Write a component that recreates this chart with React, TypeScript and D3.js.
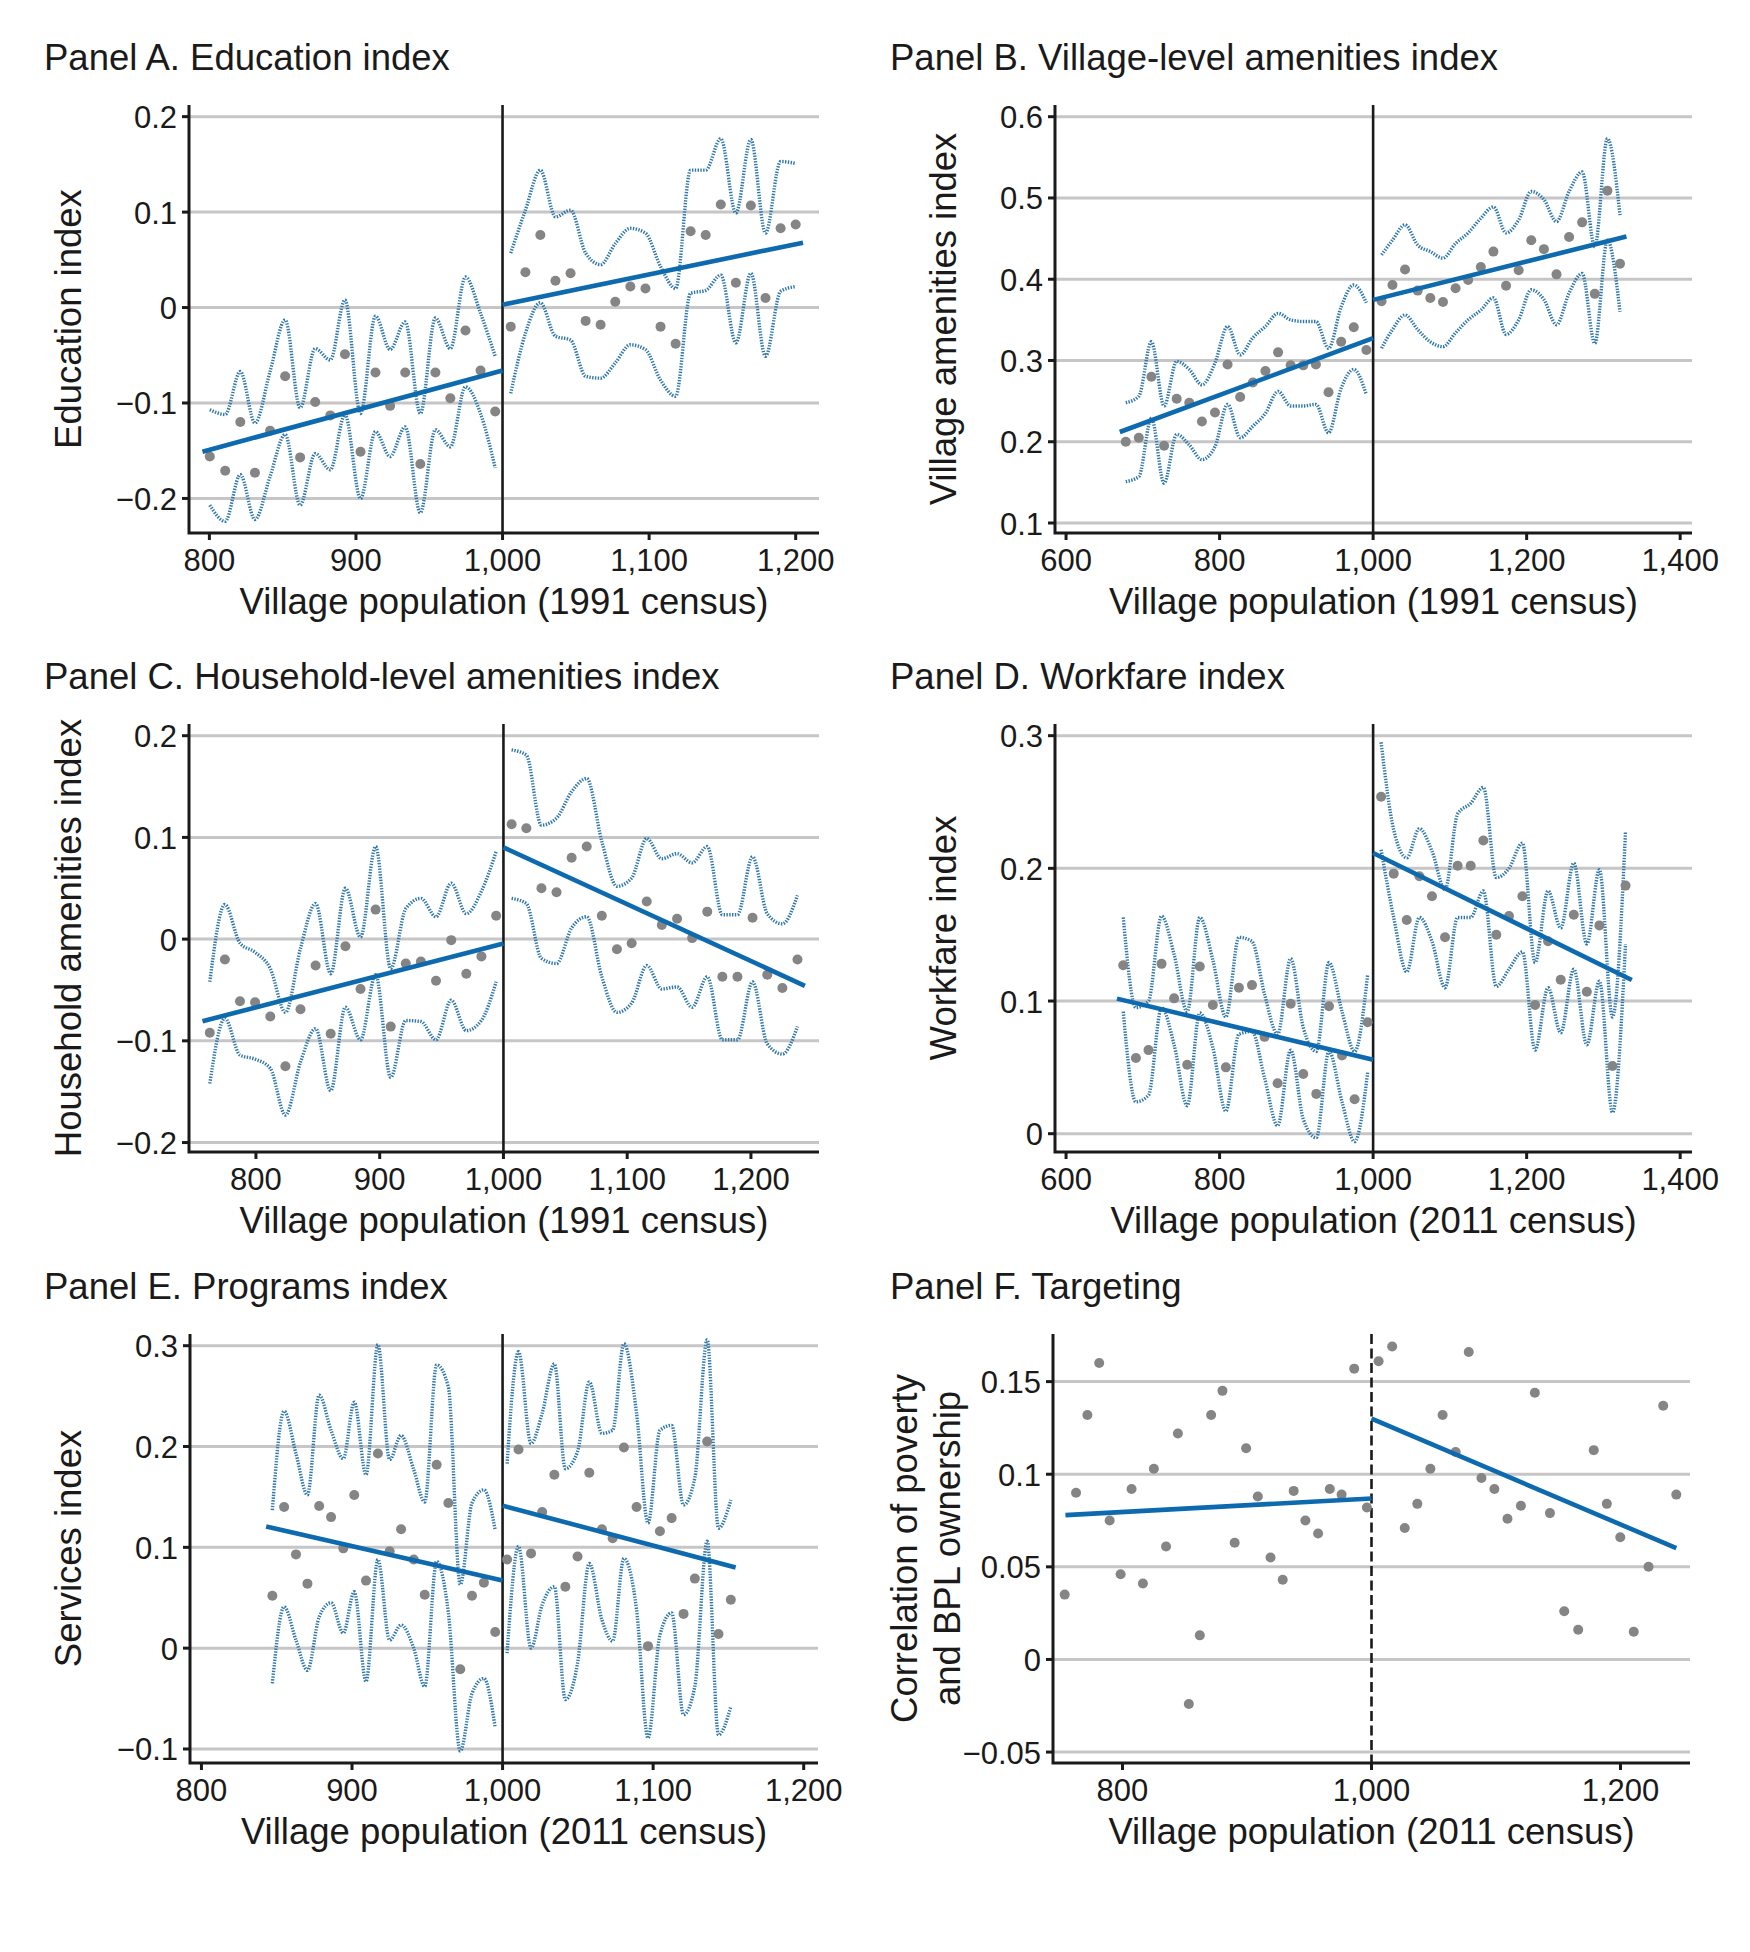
import React from 'react';
import * as d3 from 'd3';

// ---------------- Panel A: Education index ----------------
const aLeftX = [800.3, 810.8, 821.1, 831.1, 841.4, 851.7, 861.9, 872.2, 882.5, 892.5, 903.1, 913.3, 923.3, 933.6, 943.9, 954.2, 964.4, 974.7, 985.0, 995.0];
const aLeftY = [-0.156, -0.171, -0.120, -0.173, -0.129, -0.072, -0.157, -0.099, -0.113, -0.049, -0.151, -0.068, -0.103, -0.068, -0.164, -0.068, -0.095, -0.024, -0.066, -0.109];
const aLeftUp = [-0.107, -0.112, -0.067, -0.121, -0.067, -0.013, -0.105, -0.043, -0.055, 0.008, -0.111, -0.009, -0.044, -0.015, -0.111, -0.011, -0.043, 0.032, -0.006, -0.051];
const aLeftLo = [-0.207, -0.224, -0.175, -0.222, -0.177, -0.133, -0.207, -0.153, -0.170, -0.112, -0.200, -0.130, -0.156, -0.125, -0.215, -0.128, -0.146, -0.083, -0.111, -0.168];
const aRightX = [1005.6, 1015.6, 1025.8, 1036.1, 1046.4, 1056.7, 1066.9, 1076.9, 1087.2, 1097.5, 1107.8, 1118.1, 1128.3, 1138.6, 1148.9, 1159.2, 1169.4, 1179.4, 1189.7, 1200.0];
const aRightY = [-0.020, 0.037, 0.076, 0.028, 0.036, -0.014, -0.018, 0.006, 0.022, 0.020, -0.020, -0.038, 0.080, 0.076, 0.108, 0.026, 0.107, 0.010, 0.083, 0.087];
const aRightUp = [0.057, 0.102, 0.144, 0.095, 0.102, 0.057, 0.045, 0.067, 0.083, 0.078, 0.043, 0.020, 0.144, 0.144, 0.177, 0.099, 0.176, 0.078, 0.153, 0.151];
const aRightLo = [-0.090, -0.027, 0.005, -0.030, -0.034, -0.072, -0.074, -0.058, -0.039, -0.044, -0.076, -0.093, 0.015, 0.018, 0.034, -0.037, 0.036, -0.051, 0.017, 0.022];
const aFitLeft: [number, number][] = [[795.3, -0.151], [1000, -0.066]];
const aFitRight: [number, number][] = [[1000, 0.003], [1205, 0.068]];

// ---------------- Panel B: Village-level amenities ----------------
const bLeftX = [677.8, 694.8, 711.2, 727.7, 744.1, 760.5, 777.0, 794.0, 810.4, 826.8, 843.3, 859.7, 876.2, 892.6, 909.0, 925.5, 941.9, 958.4, 974.8, 991.2];
const bLeftY = [0.200, 0.205, 0.280, 0.195, 0.253, 0.248, 0.225, 0.236, 0.295, 0.255, 0.273, 0.287, 0.310, 0.294, 0.294, 0.295, 0.261, 0.323, 0.341, 0.313];
const bLeftUp = [0.248, 0.256, 0.323, 0.244, 0.299, 0.289, 0.270, 0.297, 0.342, 0.307, 0.328, 0.342, 0.358, 0.350, 0.348, 0.348, 0.315, 0.366, 0.393, 0.371];
const bLeftLo = [0.151, 0.157, 0.229, 0.149, 0.209, 0.196, 0.178, 0.194, 0.246, 0.205, 0.219, 0.235, 0.262, 0.244, 0.244, 0.246, 0.211, 0.266, 0.289, 0.258];
const bRightX = [1011.0, 1025.2, 1041.6, 1058.1, 1074.5, 1091.0, 1107.4, 1123.8, 1140.3, 1156.7, 1173.2, 1189.6, 1206.0, 1222.5, 1238.9, 1255.3, 1272.3, 1288.8, 1305.2, 1321.6];
const bRightY = [0.373, 0.393, 0.412, 0.386, 0.377, 0.372, 0.389, 0.399, 0.415, 0.434, 0.392, 0.411, 0.448, 0.437, 0.406, 0.452, 0.470, 0.382, 0.509, 0.419];
const bRightUp = [0.430, 0.448, 0.467, 0.442, 0.434, 0.426, 0.444, 0.457, 0.475, 0.489, 0.457, 0.473, 0.508, 0.498, 0.471, 0.508, 0.532, 0.440, 0.573, 0.479];
const bRightLo = [0.315, 0.338, 0.356, 0.338, 0.323, 0.317, 0.334, 0.350, 0.362, 0.377, 0.332, 0.350, 0.387, 0.375, 0.344, 0.383, 0.407, 0.321, 0.448, 0.360];
const bFitLeft: [number, number][] = [[670, 0.212], [1000, 0.3275]];
const bFitRight: [number, number][] = [[1000, 0.3746], [1330, 0.4525]];

// ---------------- Panel C: Household-level amenities ----------------
const cLeftX = [762.7, 774.9, 787.1, 799.3, 811.6, 823.8, 836.0, 848.2, 860.4, 872.3, 884.5, 896.7, 908.9, 921.1, 933.3, 945.5, 957.8, 970.0, 982.2, 994.1];
const cLeftY = [-0.092, -0.020, -0.061, -0.062, -0.076, -0.125, -0.069, -0.026, -0.093, -0.007, -0.049, 0.029, -0.086, -0.024, -0.022, -0.041, -0.001, -0.034, -0.017, 0.023];
const cLeftUp = [-0.042, 0.034, -0.004, -0.013, -0.029, -0.072, -0.009, 0.035, -0.034, 0.050, 0.002, 0.091, -0.029, 0.030, 0.040, 0.022, 0.055, 0.025, 0.047, 0.086];
const cLeftLo = [-0.142, -0.078, -0.114, -0.118, -0.127, -0.173, -0.121, -0.088, -0.149, -0.067, -0.099, -0.035, -0.136, -0.080, -0.081, -0.099, -0.060, -0.090, -0.080, -0.042];
const cRightX = [1006.6, 1018.5, 1030.7, 1042.9, 1055.1, 1067.3, 1079.5, 1091.7, 1103.6, 1115.8, 1128.0, 1140.3, 1152.5, 1164.7, 1176.9, 1189.1, 1201.3, 1213.2, 1225.4, 1237.6];
const cRightY = [0.113, 0.109, 0.050, 0.046, 0.080, 0.091, 0.023, -0.010, -0.004, 0.037, 0.014, 0.020, 0.001, 0.027, -0.037, -0.037, 0.021, -0.035, -0.048, -0.020];
const cRightUp = [0.186, 0.181, 0.112, 0.119, 0.145, 0.158, 0.096, 0.052, 0.060, 0.099, 0.079, 0.084, 0.075, 0.091, 0.024, 0.024, 0.081, 0.025, 0.015, 0.043];
const cRightLo = [0.040, 0.035, -0.019, -0.024, 0.011, 0.022, -0.037, -0.072, -0.063, -0.026, -0.049, -0.047, -0.067, -0.037, -0.099, -0.099, -0.042, -0.103, -0.113, -0.086];
const cFitLeft: [number, number][] = [[756.8, -0.0807], [1000, -0.0043]];
const cFitRight: [number, number][] = [[1000, 0.0902], [1243.6, -0.0459]];

// ---------------- Panel D: Workfare index ----------------
const dLeftX = [674.5, 691.0, 707.4, 724.4, 740.8, 757.8, 774.2, 791.2, 808.2, 825.2, 842.2, 858.6, 875.6, 892.6, 909.0, 926.0, 942.5, 959.5, 975.9, 992.9];
const dLeftY = [0.127, 0.057, 0.063, 0.128, 0.102, 0.052, 0.126, 0.097, 0.050, 0.110, 0.112, 0.073, 0.038, 0.098, 0.045, 0.030, 0.096, 0.059, 0.026, 0.084];
const dLeftUp = [0.163, 0.095, 0.100, 0.164, 0.135, 0.092, 0.163, 0.131, 0.088, 0.148, 0.145, 0.105, 0.075, 0.132, 0.080, 0.062, 0.129, 0.092, 0.062, 0.120];
const dLeftLo = [0.092, 0.024, 0.029, 0.095, 0.067, 0.021, 0.091, 0.065, 0.017, 0.075, 0.077, 0.042, 0.006, 0.063, 0.011, -0.003, 0.062, 0.024, -0.006, 0.046];
const dRightX = [1010.4, 1026.8, 1043.8, 1060.3, 1076.7, 1093.7, 1110.1, 1127.1, 1143.6, 1160.5, 1177.0, 1194.5, 1211.0, 1227.9, 1244.4, 1261.4, 1278.4, 1294.8, 1311.8, 1328.8];
const dRightY = [0.254, 0.196, 0.161, 0.194, 0.179, 0.148, 0.202, 0.202, 0.221, 0.150, 0.164, 0.179, 0.097, 0.145, 0.116, 0.165, 0.107, 0.157, 0.051, 0.187];
const dRightUp = [0.295, 0.229, 0.208, 0.230, 0.213, 0.184, 0.241, 0.249, 0.261, 0.193, 0.200, 0.219, 0.129, 0.183, 0.155, 0.204, 0.143, 0.199, 0.088, 0.228];
const dRightLo = [0.214, 0.163, 0.122, 0.163, 0.145, 0.110, 0.163, 0.163, 0.183, 0.111, 0.124, 0.137, 0.063, 0.110, 0.076, 0.124, 0.067, 0.115, 0.016, 0.143];
const dFitLeft: [number, number][] = [[666.3, 0.1018], [1000, 0.0558]];
const dFitRight: [number, number][] = [[1000, 0.2116], [1337, 0.1158]];

// ---------------- Panel E: Programs index ----------------
const eLeftX = [847.1, 854.9, 862.8, 870.4, 878.2, 886.1, 894.2, 901.5, 909.3, 917.2, 925.0, 932.6, 941.0, 948.3, 956.2, 964.0, 971.9, 979.7, 987.6, 995.1];
const eLeftY = [0.052, 0.140, 0.093, 0.064, 0.141, 0.130, 0.099, 0.152, 0.067, 0.193, 0.096, 0.118, 0.088, 0.053, 0.182, 0.144, -0.021, 0.052, 0.065, 0.016];
const eLeftUp = [0.137, 0.235, 0.193, 0.152, 0.251, 0.216, 0.188, 0.244, 0.172, 0.301, 0.187, 0.211, 0.177, 0.145, 0.281, 0.259, 0.063, 0.144, 0.157, 0.117];
const eLeftLo = [-0.035, 0.041, 0.008, -0.022, 0.031, 0.045, 0.015, 0.056, -0.033, 0.088, 0.008, 0.023, 0.000, -0.038, 0.086, 0.035, -0.102, -0.045, -0.030, -0.079];
const eRightX = [1003.0, 1010.6, 1018.9, 1026.3, 1034.4, 1041.7, 1049.8, 1057.6, 1066.0, 1073.1, 1080.6, 1089.0, 1096.6, 1104.5, 1112.3, 1120.2, 1127.7, 1135.9, 1143.4, 1151.6];
const eRightY = [0.088, 0.197, 0.094, 0.135, 0.172, 0.061, 0.091, 0.174, 0.118, 0.109, 0.199, 0.140, 0.002, 0.116, 0.129, 0.034, 0.069, 0.205, 0.014, 0.048];
const eRightUp = [0.183, 0.294, 0.203, 0.233, 0.282, 0.178, 0.195, 0.264, 0.213, 0.216, 0.302, 0.233, 0.124, 0.216, 0.221, 0.142, 0.169, 0.306, 0.119, 0.147];
const eRightLo = [-0.005, 0.101, 0.000, 0.043, 0.061, -0.051, -0.015, 0.084, 0.028, 0.007, 0.089, 0.038, -0.089, 0.013, 0.035, -0.066, -0.038, 0.106, -0.086, -0.058];
const eFitLeft: [number, number][] = [[843.0, 0.1206], [1000, 0.0671]];
const eFitRight: [number, number][] = [[1000, 0.1414], [1154.8, 0.080]];

// ---------------- Panel F: Targeting ----------------
const fLeftX = [753.6, 762.7, 771.8, 781.3, 789.7, 798.5, 807.3, 816.4, 825.2, 835.0, 844.5, 853.3, 862.1, 871.2, 880.3, 890.1, 899.3, 908.7, 918.9, 928.7, 937.5, 946.9, 957.1, 966.5, 976.0, 986.1, 996.3];
const fLeftY = [0.035, 0.090, 0.132, 0.160, 0.075, 0.046, 0.092, 0.041, 0.103, 0.061, 0.122, -0.024, 0.013, 0.132, 0.145, 0.063, 0.114, 0.088, 0.055, 0.043, 0.091, 0.075, 0.068, 0.092, 0.089, 0.157, 0.082];
const fRightX = [1005.7, 1016.6, 1026.7, 1036.8, 1047.3, 1057.1, 1067.6, 1078.1, 1088.3, 1098.7, 1109.2, 1120.0, 1131.2, 1143.3, 1154.8, 1166.0, 1178.5, 1189.0, 1199.8, 1210.6, 1222.5, 1234.3, 1244.8];
const fRightY = [0.161, 0.169, 0.071, 0.084, 0.103, 0.132, 0.112, 0.166, 0.098, 0.092, 0.076, 0.083, 0.144, 0.079, 0.026, 0.016, 0.113, 0.084, 0.066, 0.015, 0.050, 0.137, 0.089];
const fFitLeft: [number, number][] = [[754.2, 0.0779], [1000, 0.0869]];
const fFitRight: [number, number][] = [[1000, 0.130], [1244.8, 0.0601]];

// ---------------- Axis ticks & labels ----------------
const ticks800to1200 = [800, 900, 1000, 1100, 1200];
const ticks600to1400 = [600, 800, 1000, 1200, 1400];
const ticksF = [800, 1000, 1200];
const yTicksA = [-0.2, -0.1, 0, 0.1, 0.2];
const yTicksB = [0.1, 0.2, 0.3, 0.4, 0.5, 0.6];
const yTicksC = [-0.2, -0.1, 0, 0.1, 0.2];
const yTicksD = [0, 0.1, 0.2, 0.3];
const yTicksE = [-0.1, 0, 0.1, 0.2, 0.3];
const yTicksF = [-0.05, 0, 0.05, 0.1, 0.15];

const X91 = 'Village population (1991 census)';
const X11 = 'Village population (2011 census)';

type Pt = [number, number];
const zip = (a: number[], b: number[]): Pt[] => a.map((v, i) => [v, b[i]] as Pt);

interface Side { x: number[]; y: number[]; up?: number[]; lo?: number[]; fit: Pt[] }
interface PanelSpec {
  title: string; titleX: number;
  yTitle: string[]; yTitleX: number[];
  xTitle: string;
  box: { left: number; right: number; top: number; bottom: number };
  xDomain: [number, number]; yDomain: [number, number];
  xTicks: number[]; yTicks: number[];
  sides: Side[];
  dashed?: boolean;
}

const FONT = "'Liberation Sans', Arial, Helvetica, sans-serif";
const TXT = '#1a1a1a';
const GRID = '#c6c6c6';
const BAND = '#2f78ad';
const FIT = '#0d6aae';
const DOT = '#858585';
const TITLE_SIZE = 36.5;
const TICK_SIZE = 31;

const fmtX = d3.format(',');
const fmtY = (v: number) => (v === 0 ? '0' : (v < 0 ? '\u2212' : '') + String(Math.abs(v)));

const panels: PanelSpec[] = [
  {
    title: 'Panel A. Education index', titleX: 44,
    yTitle: ['Education index'], yTitleX: [81], xTitle: X91,
    box: { left: 189, right: 819, top: 105, bottom: 533 },
    xDomain: [786.1, 1215.9], yDomain: [-0.2362, 0.2122],
    xTicks: ticks800to1200, yTicks: yTicksA,
    sides: [
      { x: aLeftX, y: aLeftY, up: aLeftUp, lo: aLeftLo, fit: aFitLeft },
      { x: aRightX, y: aRightY, up: aRightUp, lo: aRightLo, fit: aFitRight },
    ],
  },
  {
    title: 'Panel B. Village-level amenities index', titleX: 890,
    yTitle: ['Village amenities index'], yTitleX: [956], xTitle: X91,
    box: { left: 1055, right: 1692, top: 105, bottom: 533 },
    xDomain: [585.6, 1415.4], yDomain: [0.0877, 0.6144],
    xTicks: ticks600to1400, yTicks: yTicksB,
    sides: [
      { x: bLeftX, y: bLeftY, up: bLeftUp, lo: bLeftLo, fit: bFitLeft },
      { x: bRightX, y: bRightY, up: bRightUp, lo: bRightLo, fit: bFitRight },
    ],
  },
  {
    title: 'Panel C. Household-level amenities index', titleX: 44,
    yTitle: ['Household amenities index'], yTitleX: [81], xTitle: X91,
    box: { left: 189, right: 819, top: 724, bottom: 1152 },
    xDomain: [745.9, 1255], yDomain: [-0.2093, 0.2115],
    xTicks: ticks800to1200, yTicks: yTicksC,
    sides: [
      { x: cLeftX, y: cLeftY, up: cLeftUp, lo: cLeftLo, fit: cFitLeft },
      { x: cRightX, y: cRightY, up: cRightUp, lo: cRightLo, fit: cFitRight },
    ],
  },
  {
    title: 'Panel D. Workfare index', titleX: 890,
    yTitle: ['Workfare index'], yTitleX: [956], xTitle: X11,
    box: { left: 1055, right: 1692, top: 724, bottom: 1152 },
    xDomain: [585.6, 1415.4], yDomain: [-0.0138, 0.3088],
    xTicks: ticks600to1400, yTicks: yTicksD,
    sides: [
      { x: dLeftX, y: dLeftY, up: dLeftUp, lo: dLeftLo, fit: dFitLeft },
      { x: dRightX, y: dRightY, up: dRightUp, lo: dRightLo, fit: dFitRight },
    ],
  },
  {
    title: 'Panel E. Programs index', titleX: 44,
    yTitle: ['Services index'], yTitleX: [81], xTitle: X11,
    box: { left: 190, right: 818, top: 1334, bottom: 1763 },
    xDomain: [792.4, 1209.5], yDomain: [-0.1139, 0.3116],
    xTicks: ticks800to1200, yTicks: yTicksE,
    sides: [
      { x: eLeftX, y: eLeftY, up: eLeftUp, lo: eLeftLo, fit: eFitLeft },
      { x: eRightX, y: eRightY, up: eRightUp, lo: eRightLo, fit: eFitRight },
    ],
  },
  {
    title: 'Panel F. Targeting', titleX: 890,
    yTitle: ['Correlation of poverty', 'and BPL ownership'], yTitleX: [917, 960], xTitle: X11,
    box: { left: 1053, right: 1690, top: 1334, bottom: 1763 },
    xDomain: [744.2, 1255.8], yDomain: [-0.0559, 0.1757],
    xTicks: ticksF, yTicks: yTicksF,
    sides: [
      { x: fLeftX, y: fLeftY, fit: fFitLeft },
      { x: fRightX, y: fRightY, fit: fFitRight },
    ],
    dashed: true,
  },
];

function Panel({ spec }: { spec: PanelSpec }) {
  const { box } = spec;
  const x = d3.scaleLinear().domain(spec.xDomain).range([box.left, box.right]);
  const y = d3.scaleLinear().domain(spec.yDomain).range([box.bottom, box.top]);
  const bandLine = d3.line<Pt>().x(d => x(d[0])).y(d => y(d[1])).curve(d3.curveMonotoneX);
  const straight = d3.line<Pt>().x(d => x(d[0])).y(d => y(d[1]));
  const cx = x(1000);
  const midY = (box.top + box.bottom) / 2;
  const midX = (box.left + box.right) / 2;
  return (
    <g>
      <text x={spec.titleX} y={box.top - 35} fontSize={TITLE_SIZE} fill={TXT}>{spec.title}</text>
      {spec.yTicks.map(t => (
        <line key={'g' + t} x1={box.left} x2={box.right} y1={y(t)} y2={y(t)} stroke={GRID} strokeWidth={3} />
      ))}
      <line x1={cx} x2={cx} y1={box.top} y2={box.bottom} stroke={TXT} strokeWidth={2.6}
        strokeDasharray={spec.dashed ? '10 4.5' : undefined} />
      {spec.sides.map((s, i) => (
        <g key={'b' + i}>
          {s.up && <path d={bandLine(zip(s.x, s.up)) || ''} fill="none" stroke={BAND} strokeWidth={3.4} strokeDasharray="1.4 1.4" />}
          {s.lo && <path d={bandLine(zip(s.x, s.lo)) || ''} fill="none" stroke={BAND} strokeWidth={3.4} strokeDasharray="1.4 1.4" />}
        </g>
      ))}
      {spec.sides.map((s, i) => (
        <g key={'d' + i}>
          {s.x.map((v, j) => (
            <circle key={j} cx={x(v)} cy={y(s.y[j])} r={5} fill={DOT} />
          ))}
        </g>
      ))}
      {spec.sides.map((s, i) => (
        <path key={'f' + i} d={straight(s.fit) || ''} fill="none" stroke={FIT} strokeWidth={4.6} />
      ))}
      {/* axes */}
      <path d={`M${box.left},${box.top}V${box.bottom}H${box.right}`} fill="none" stroke={TXT} strokeWidth={3} />
      {spec.yTicks.map(t => (
        <g key={'yt' + t}>
          <line x1={box.left - 7} x2={box.left} y1={y(t)} y2={y(t)} stroke={TXT} strokeWidth={3} />
          <text x={box.left - 12} y={y(t) + 11.5} fontSize={TICK_SIZE} textAnchor="end" fill={TXT}>{fmtY(t)}</text>
        </g>
      ))}
      {spec.xTicks.map(t => (
        <g key={'xt' + t}>
          <line x1={x(t)} x2={x(t)} y1={box.bottom} y2={box.bottom + 7} stroke={TXT} strokeWidth={3} />
          <text x={x(t)} y={box.bottom + 38} fontSize={TICK_SIZE} textAnchor="middle" fill={TXT}>{fmtX(t)}</text>
        </g>
      ))}
      <text x={midX} y={box.bottom + 81} fontSize={TITLE_SIZE} textAnchor="middle" fill={TXT}>{spec.xTitle}</text>
      {spec.yTitle.map((t, i) => (
        <text key={'ytl' + i} transform={`translate(${spec.yTitleX[i]},${midY}) rotate(-90)`} fontSize={TITLE_SIZE}
          textAnchor="middle" fill={TXT}>{t}</text>
      ))}
    </g>
  );
}

export default function App() {
  return (
    <svg width={1750} height={1952} viewBox="0 0 1750 1952"
      style={{ position: 'absolute', left: 0, top: 0, display: 'block', background: '#fff' }}
      fontFamily={FONT}>
      <rect x={0} y={0} width={1750} height={1952} fill="#fff" />
      {panels.map((p, i) => <Panel key={i} spec={p} />)}
    </svg>
  );
}
